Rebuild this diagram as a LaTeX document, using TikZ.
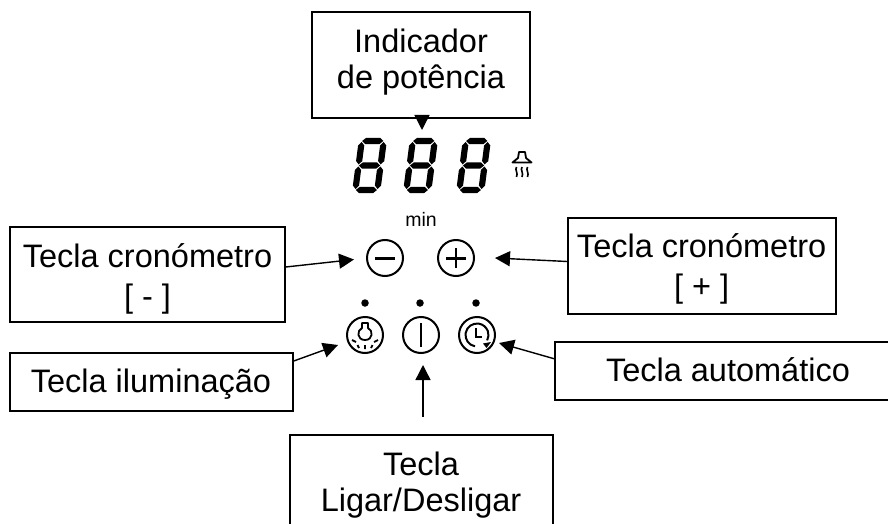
\documentclass[tikz,border=0pt]{standalone}
\usepackage{fontspec}
\setmainfont{Liberation Sans}
\usetikzlibrary{arrows.meta}
\tikzset{
  x=1pt,y=-1pt,
  lbl/.style={draw=black,line width=1.5pt,fill=white,inner sep=0pt},
  txt/.style={align=center,font=\fontsize{32.5}{36.5}\selectfont,inner sep=0pt},
  txtw/.style={align=center,font=\fontsize{32.5}{39.5}\selectfont,inner sep=0pt},
  arr/.style={line width=1.4pt,-{Triangle[length=15pt,width=15pt]}},
  iconline/.style={line width=2.5pt,black},
  key/.style={circle,draw=black,line width=2pt,minimum size=36pt,inner sep=0pt},
  leddot/.style={circle,fill=black,minimum size=7.5pt,inner sep=0pt}
}
\newcommand{\hsegm}[1]{\fill (3.4,#1) -- (6.9,#1-3.1) -- (21.1,#1-3.1) -- (24.6,#1) -- (21.1,#1+3.1) -- (6.9,#1+3.1) -- cycle;}
\newcommand{\vsegm}[3]{\fill (#1,#2) -- (#1+3.1,#2+3.5) -- (#1+3.1,#3-3.5) -- (#1,#3) -- (#1-3.1,#3-3.5) -- (#1-3.1,#2+3.5) -- cycle;}
\begin{document}
\begin{tikzpicture}
\useasboundingbox (0,0) rectangle (888,524);
\begin{scope}
\clip (0,0) rectangle (888,524);
\node[lbl,minimum width=218pt,minimum height=106pt] (pot) at (421,65) {};
\node[lbl,minimum width=275pt,minimum height=95pt] (cm) at (147.5,274.5) {};
\node[lbl,minimum width=268pt,minimum height=96pt] (cp) at (702,266) {};
\node[lbl,minimum width=283pt,minimum height=58pt] (il) at (151.5,382) {};
\node[lbl,minimum width=346pt,minimum height=58pt] (au) at (728,371) {};
\node[lbl,minimum width=263pt,minimum height=110pt] (lg) at (421.5,490) {};
\end{scope}
% labels
\node[txt] (tpot) at (421,62) {Indicador\\de potência};
\node[txtw] (tcm) at (147.5,279) {Tecla cronómetro\\{[ - ]}};
\node[txtw] (tcp) at (701.6,269) {Tecla cronómetro\\{[ + ]}};
\node[txt] (til) at (151,384) {Tecla iluminação};
\node[txt] (tau) at (728,370) {Tecla automático};
\node[txt] (tlg) at (421,485) {Tecla\\Ligar/Desligar};
% keys
\node[key] (kmin) at (385,258) {};
\node[key] (kplus) at (456,258) {};
\node[key] (kbulb) at (365,335) {};
\node[key] (kpow) at (421,335) {};
\node[key] (kclock) at (477,335) {};
\node[leddot] (d1) at (365,303) {};
\node[leddot] (d2) at (420,303) {};
\node[leddot] (d3) at (476,303) {};
\node[font=\fontsize{19.5}{22}\selectfont,inner sep=0pt,anchor=base] (mn) at (421,226) {min};
% glyphs
\draw[iconline] (375,258.5) -- (395,258.5);
\draw[iconline] (446,258.5) -- (466,258.5) (456,248) -- (456,268);
\draw[iconline] (421,323) -- (421,347);
% clock
\draw[line width=2pt] (477,335) ++(-260:11.5) arc[start angle=-260,end angle=28,radius=11.5];
\fill (483,343.5) -- (491,342) -- (486.5,348) -- cycle;
\draw[line width=2pt] (476,328) -- (476,336.5) -- (482,336.5);
% bulb
\draw[line width=1.8pt,line join=round] (362,323) -- (368,323) -- (368,328) .. controls (373.5,330.5) and (373,340) .. (365,340) .. controls (357,340) and (356.5,330.5) .. (362,328) -- cycle;
\draw[line width=1.8pt] (352,340) -- (356,342) (357.5,345) -- (359,348) (365,345) -- (365,349) (372.5,345) -- (371,348) (378,340) -- (374,342);
% digits
\foreach \dx in {352,403,456}{
\begin{scope}[shift={(\dx,193)},xslant=0.13]
\hsegm{-52}\hsegm{-27.5}\hsegm{-3}
\vsegm{3}{-51}{-28.5}\vsegm{3}{-26.5}{-4}\vsegm{25}{-51}{-28.5}\vsegm{25}{-26.5}{-4}
\end{scope}}
% hood
\draw[line width=1.8pt,line join=round] (519,152) -- (525,152) -- (526,158) -- (531.5,162.5) -- (512.5,162.5) -- (518,158) -- cycle;
\foreach \wx in {516.5,522,527.5}{
\draw[line width=1.6pt] (\wx,167) .. controls (\wx-2,170) and (\wx+2,173) .. (\wx,177);}
% connectors
\coordinate (tp) at (422,130);
\coordinate (tm) at (354,259.5);
\coordinate (tq) at (495,258);
\coordinate (tb) at (338,345);
\coordinate (ta) at (499,343);
\coordinate (tl) at (423,365);
\coordinate (sl) at (423,417);
\draw[arr] ([xshift=1pt]pot.south) -- (tp);
\draw[arr] ([yshift=7.5pt]cm.east) -- (tm);
\draw[arr] ([yshift=4.5pt]cp.west) -- (tq);
\draw[arr] ([yshift=21pt]il.east) -- (tb);
\draw[arr] ([xshift=-173pt,yshift=12pt]au.center) -- (ta);
\draw[arr] (sl) -- (tl);
\end{tikzpicture}
\end{document}
